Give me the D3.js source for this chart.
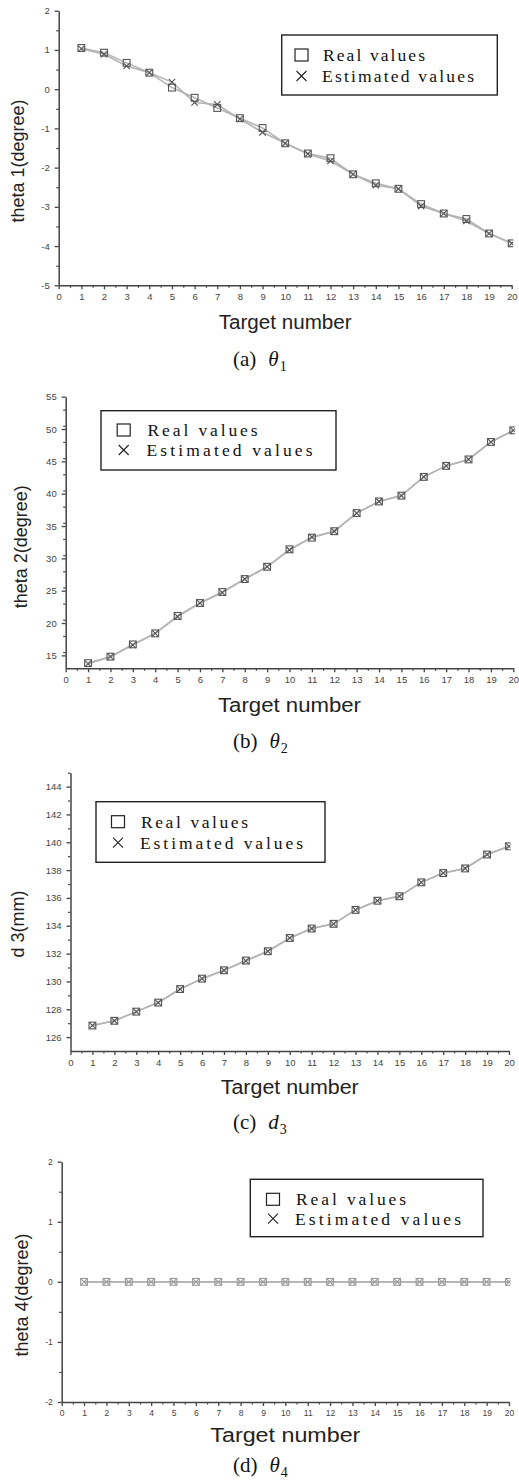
<!DOCTYPE html>
<html><head><meta charset="utf-8">
<script src="https://cdn.jsdelivr.net/npm/d3@7"></script>
<style>body{margin:0;background:#fff}svg{display:block}</style>
</head><body>
<script>
// ---------- data ----------
const targets = [1,2,3,4,5,6,7,8,9,10,11,12,13,14,15,16,17,18,19,20];
const xTickLabels = ["0","1","2","3","4","5","6","7","8","9","10","11","12","13","14","15","16","17","18","19","20"];
const seriesNames = ["Real values", "Estimated values"];

const theta1Real = [1.05,0.93,0.67,0.42,0.04,-0.22,-0.48,-0.74,-0.99,-1.38,-1.64,-1.76,-2.17,-2.40,-2.54,-2.93,-3.17,-3.31,-3.68,-3.93];
const theta1Est  = [1.03,0.89,0.59,0.42,0.18,-0.34,-0.39,-0.76,-1.10,-1.38,-1.65,-1.83,-2.17,-2.45,-2.54,-2.98,-3.17,-3.36,-3.68,-3.93];

const theta2Real = [13.8,14.8,16.7,18.4,21.1,23.1,24.8,26.8,28.7,31.4,33.2,34.2,37.0,38.8,39.7,42.6,44.3,45.3,48.0,49.8];
const theta2Est  = [13.7,14.8,16.6,18.4,21.0,23.1,24.7,26.8,28.7,31.3,33.3,34.2,37.0,38.8,39.7,42.6,44.3,45.3,48.0,49.8];

const d3mmReal = [126.83,127.17,127.83,128.48,129.45,130.20,130.80,131.50,132.17,133.12,133.80,134.14,135.14,135.80,136.12,137.12,137.79,138.12,139.12,139.71];
const d3mmEst  = [126.83,127.17,127.83,128.48,129.45,130.20,130.80,131.48,132.17,133.12,133.80,134.14,135.14,135.80,136.12,137.12,137.79,138.12,139.12,139.71];

const theta4Real = [0,0,0,0,0,0,0,0,0,0,0,0,0,0,0,0,0,0,0,0];
const theta4Est  = [0,0,0,0,0,0,0,0,0,0,0,0,0,0,0,0,0,0,0,0];

const yTicksA = [-5,-4,-3,-2,-1,0,1,2];
const yTicksB = [15,20,25,30,35,40,45,50,55];
const yTicksC = [126,128,130,132,134,136,138,140,142,144];
const yTicksD = [-2,-1,0,1,2];

const yTitles = ["theta 1(degree)","theta 2(degree)","d 3(mm)","theta 4(degree)"];
const xTitle = "Target number";
const captionLetters = ["(a)","(b)","(c)","(d)"];
const captionSymbols = ["θ","θ","d","θ"];
const captionSubs = ["1","2","3","4"];

// ---------- layout ----------
const W = 519, H = 1482;
const svg = d3.select("body").append("svg").attr("width", W).attr("height", H);

const panels = [
  {real: theta1Real, est: theta1Est, yTicks: yTicksA, dom: [-5,2], minorStep: 0.5,
   x0: 58.7, x1: 511.7, yTop: 10.7, yBot: 285.3,
   leg: {x: 281.7, y: 35, w: 215.6, h: 60, r1: 55, r2: 76, mx: 301.5, tx: 323, rw: 102, ew: 152},
   yl: {x: 18, y: 161}, xtY: 322, xtW: 133, capY: 359, tickFs: 9.5, mcol: "#555"},
  {real: theta2Real, est: theta2Est, yTicks: yTicksB, dom: [13,55], minorStep: 2.5,
   x0: 65.7, x1: 513.3, yTop: 396.7, yBot: 668.3,
   leg: {x: 101, y: 410.7, w: 235, h: 59.3, r1: 430, r2: 450, mx: 123.7, tx: 147.5, rw: 110, ew: 166},
   yl: {x: 21, y: 546.7}, xtY: 705, xtW: 143, capY: 741, tickFs: 9.5, mcol: "#555"},
  {real: d3mmReal, est: d3mmEst, yTicks: yTicksC, dom: [125,145], minorStep: 1,
   x0: 70.5, x1: 509, yTop: 772.7, yBot: 1051,
   leg: {x: 96, y: 801.7, w: 229, h: 60.6, r1: 821.7, r2: 842.7, mx: 118, tx: 141, rw: 107, ew: 163},
   yl: {x: 18, y: 924}, xtY: 1087, xtW: 138, capY: 1122, tickFs: 9.5, mcol: "#555"},
  {real: theta4Real, est: theta4Est, yTicks: yTicksD, dom: [-2,2], minorStep: 0.5,
   x0: 61.7, x1: 509, yTop: 1161.7, yBot: 1402,
   leg: {x: 250.3, y: 1179.3, w: 232.7, h: 57.4, r1: 1199.3, r2: 1218.7, mx: 273, tx: 296, rw: 110, ew: 166},
   yl: {x: 21.7, y: 1295}, xtY: 1435, xtW: 150, capY: 1465, tickFs: 8.5, mcol: "#9a9a9a"}
];

const axisCol = "#444";
const intFmt = d => String(d);

panels.forEach((p, i) => {
  const g = svg.append("g");
  const x = d3.scaleLinear().domain([0, 20]).range([p.x0, p.x1]);
  const y = d3.scaleLinear().domain(p.dom).range([p.yBot, p.yTop]);

  // clip
  const cid = "clip" + i;
  svg.append("clipPath").attr("id", cid).append("rect")
    .attr("x", p.x0).attr("y", p.yTop - 10).attr("width", p.x1 - p.x0 + 1.5).attr("height", p.yBot - p.yTop + 20);

  // minor ticks
  const xMinor = d3.range(0.5, 20, 1);
  g.append("g").attr("transform", `translate(0,${p.yBot})`)
    .call(d3.axisBottom(x).tickValues(xMinor).tickSize(2.5).tickSizeOuter(0).tickFormat(""))
    .call(a => a.select(".domain").remove())
    .call(a => a.selectAll("line").attr("stroke", axisCol).attr("stroke-width", 1.2));
  const yMinor = d3.range(p.dom[0], p.dom[1] + 1e-9, p.minorStep).filter(v => !p.yTicks.some(t => Math.abs(t - v) < 1e-9) && v > p.dom[0] + 1e-9);
  g.append("g").attr("transform", `translate(${p.x0},0)`)
    .call(d3.axisLeft(y).tickValues(yMinor).tickSize(2.5).tickSizeOuter(0).tickFormat(""))
    .call(a => a.select(".domain").remove())
    .call(a => a.selectAll("line").attr("stroke", axisCol).attr("stroke-width", 1.2));

  // major axes
  g.append("g").attr("transform", `translate(0,${p.yBot})`)
    .call(d3.axisBottom(x).tickValues(d3.range(0, 21)).tickFormat((d, k) => xTickLabels[k]).tickSize(4).tickPadding(4).tickSizeOuter(0))
    .call(a => a.select(".domain").attr("stroke", axisCol).attr("stroke-width", 1.5))
    .call(a => a.selectAll("line").attr("stroke", axisCol).attr("stroke-width", 1.3))
    .call(a => a.selectAll("text").attr("font-family", "Arial, 'Liberation Sans', sans-serif").attr("font-size", p.tickFs).attr("fill", "#444"));
  g.append("g").attr("transform", `translate(${p.x0},0)`)
    .call(d3.axisLeft(y).tickValues(p.yTicks).tickFormat(intFmt).tickSize(4).tickPadding(5).tickSizeOuter(0))
    .call(a => a.select(".domain").attr("stroke", axisCol).attr("stroke-width", 1.5))
    .call(a => a.selectAll("line").attr("stroke", axisCol).attr("stroke-width", 1.3))
    .call(a => a.selectAll("text").attr("font-family", "Arial, 'Liberation Sans', sans-serif").attr("font-size", p.tickFs).attr("fill", "#444"));

  // lines & markers
  const plot = g.append("g").attr("clip-path", `url(#${cid})`);
  const line = d3.line().x((d, k) => x(targets[k])).y(d => y(d));
  [p.real, p.est].forEach(s => {
    plot.append("path").datum(s).attr("d", line).attr("fill", "none")
      .attr("stroke", "#b4b4b4").attr("stroke-width", 1.6);
  });
  const ms = 3.4;
  plot.selectAll(".sq").data(p.real).join("rect")
    .attr("x", (d, k) => x(targets[k]) - ms).attr("y", d => y(d) - ms)
    .attr("width", ms * 2).attr("height", ms * 2)
    .attr("fill", "none").attr("stroke", p.mcol).attr("stroke-width", 1.1);
  plot.selectAll(".cr").data(p.est).join("path")
    .attr("d", (d, k) => {
      const cx = x(targets[k]), cy = y(d), r = 3.2;
      return `M${cx - r},${cy - r}L${cx + r},${cy + r}M${cx - r},${cy + r}L${cx + r},${cy - r}`;
    })
    .attr("stroke", p.mcol).attr("stroke-width", 1.1).attr("fill", "none");

  // legend
  const L = p.leg;
  const lg = g.append("g");
  lg.append("rect").attr("x", L.x).attr("y", L.y).attr("width", L.w).attr("height", L.h)
    .attr("fill", "#fff").attr("stroke", "#222").attr("stroke-width", 1.4);
  lg.append("rect").attr("x", L.mx - 6.5).attr("y", L.r1 - 6).attr("width", 13).attr("height", 12)
    .attr("fill", "none").attr("stroke", "#222").attr("stroke-width", 1.2);
  lg.append("path").attr("d", `M${L.mx - 5},${L.r2 - 5}L${L.mx + 5},${L.r2 + 5}M${L.mx - 5},${L.r2 + 5}L${L.mx + 5},${L.r2 - 5}`)
    .attr("stroke", "#222").attr("stroke-width", 1.1);
  lg.append("text").attr("x", L.tx).attr("y", L.r1).attr("dy", "0.35em")
    .attr("font-family", "'Liberation Serif', 'Times New Roman', serif").attr("font-size", 17.5).attr("fill", "#111")
    .attr("textLength", L.rw).attr("lengthAdjust", "spacing").text(seriesNames[0]);
  lg.append("text").attr("x", L.tx - 1).attr("y", L.r2).attr("dy", "0.35em")
    .attr("font-family", "'Liberation Serif', 'Times New Roman', serif").attr("font-size", 17.5).attr("fill", "#111")
    .attr("textLength", L.ew).attr("lengthAdjust", "spacing").text(seriesNames[1]);

  // axis titles
  g.append("text").attr("transform", `translate(${p.yl.x},${p.yl.y}) rotate(-90)`)
    .attr("text-anchor", "middle").attr("dy", "0.35em")
    .attr("font-family", "Arial, 'Liberation Sans', sans-serif").attr("font-size", 18).attr("fill", "#222")
    .text(yTitles[i]);
  g.append("text").attr("x", (p.x0 + p.x1) / 2).attr("y", p.xtY).attr("dy", "0.35em")
    .attr("text-anchor", "middle")
    .attr("font-family", "Arial, 'Liberation Sans', sans-serif").attr("font-size", 20).attr("fill", "#222")
    .attr("textLength", p.xtW).attr("lengthAdjust", "spacingAndGlyphs")
    .text(xTitle);

  // caption
  const cap = g.append("text").attr("x", 233).attr("y", p.capY).attr("dy", "0.35em")
    .attr("font-family", "'Liberation Serif', 'Times New Roman', serif").attr("font-size", 21).attr("fill", "#111");
  cap.append("tspan").text(captionLetters[i]);
  cap.append("tspan").attr("dx", 12).attr("font-style", "italic").text(captionSymbols[i]);
  cap.append("tspan").attr("dx", 1).attr("dy", 5).attr("font-size", 14).text(captionSubs[i]);
});
</script>
</body></html>
